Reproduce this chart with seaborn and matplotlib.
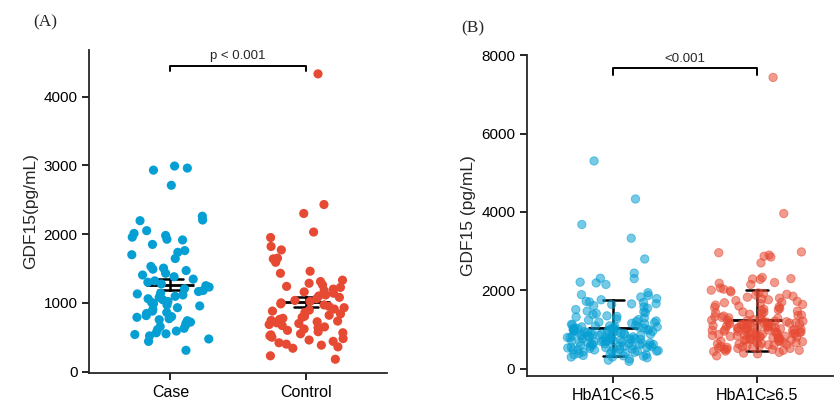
import numpy as np
import pandas as pd
import matplotlib
matplotlib.use("Agg")
import matplotlib.pyplot as plt
import seaborn as sns

# Panel A data (GDF15, pg/mL)
case_vals = [2990, 2960, 2930, 2710, 2260, 2205, 2195, 2050, 2010, 1980, 1955, 1925,
             1915, 1850, 1760, 1735, 1700, 1645, 1530, 1505, 1490, 1470, 1430, 1405,
             1380, 1345, 1320, 1300, 1275, 1250, 1230, 1205, 1180, 1165, 1140, 1130,
             1115, 1095, 1080, 1060, 1045, 1020, 1005, 990, 970, 955, 930, 905, 880,
             860, 845, 815, 800, 790, 770, 755, 740, 720, 700, 680, 655, 630, 610, 590,
             565, 550, 540, 520, 475, 440, 310]
control_vals = [4330, 2430, 2300, 2030, 1950, 1820, 1770, 1650, 1640, 1590, 1460, 1430,
                1330, 1310, 1285, 1260, 1240, 1225, 1200, 1180, 1160, 1140, 1115, 1100,
                1080, 1060, 1035, 1020, 1000, 985, 970, 950, 930, 910, 895, 880, 860,
                840, 820, 805, 790, 775, 760, 745, 735, 725, 710, 700, 685, 670, 650,
                640, 620, 600, 580, 565, 550, 535, 520, 500, 480, 460, 440, 420, 400,
                385, 360, 340, 230, 180]
groups_a = ["Case", "Control"]

# Panel B data (GDF15, pg/mL)
low_vals = [5300, 4330, 3680, 3330, 2800, 2440, 2310, 2300, 2210, 2190, 2150,
            1940, 1890, 1870, 1830, 1790, 1760, 1720, 1705, 1690, 1660, 1655, 1640, 1610, 1580,
            1545, 1510, 1470, 1455, 1430, 1410, 1385, 1350, 1335, 1320, 1295, 1270, 1255, 1240,
            1220, 1205, 1190, 1175, 1160, 1150, 1135, 1120, 1105, 1090, 1080, 1070, 1065, 1050,
            1040, 1035, 1020, 1010, 1000, 990, 985, 975, 960, 950, 945, 930, 925, 910, 900,
            890, 880, 870, 865, 855, 840, 830, 825, 810, 800, 795, 780, 770, 765, 750,
            740, 735, 720, 710, 705, 690, 680, 675, 660, 650, 640, 635, 620, 610, 600,
            590, 580, 565, 550, 540, 530, 520, 505, 490, 480, 465, 450, 440, 420, 400,
            380, 360, 340, 320, 300, 280, 250, 220, 190,
            1095, 1060, 1025, 1010, 990, 955, 930, 905, 880, 860, 835, 815, 790, 770,
            745, 720, 700, 685, 660, 640, 620, 600, 575, 560, 545, 520, 500, 480, 455,
            430, 410, 390, 360, 330, 300]
high_vals = [7430, 3960, 2980, 2960, 2900, 2870, 2850, 2700, 2330, 2300, 2290, 2280, 2200, 2180, 2150,
             2060, 2030, 2005, 1990, 1960, 1935, 1920, 1900, 1880, 1850, 1825, 1800, 1785, 1760, 1740, 1720, 1700,
             1685, 1660, 1640, 1625, 1600, 1580, 1565, 1540, 1520, 1505, 1490, 1470, 1450, 1440, 1425, 1400,
             1390, 1370, 1360, 1345, 1330, 1310, 1300, 1290, 1275, 1260, 1250, 1240, 1230, 1215, 1200, 1190,
             1180, 1170, 1160, 1150, 1145, 1130, 1120, 1110, 1100, 1090, 1085, 1070, 1060, 1050, 1040, 1030,
             1020, 1010, 1000, 995, 980, 970, 960, 950, 940, 935, 920, 910, 900, 890, 880, 870, 860, 850,
             840, 830, 825, 810, 800, 790, 780, 770, 760, 750, 740, 720, 700, 690, 670, 650, 630, 610, 600,
             580, 560, 550, 530, 520, 500, 490, 470, 450, 440, 420, 400, 380, 330,
             1240, 1215, 1190, 1165, 1140, 1120, 1095, 1075, 1050, 1030, 1010, 985, 960, 940,
             920, 895, 875, 850, 830, 810, 790, 765, 745, 720, 700, 680, 660, 640, 615,
             590, 570, 545, 520, 495, 470]
groups_b = ["HbA1C<6.5", "HbA1C\u22656.5"]

blue = "#069FD3"
red = "#E64A33"

df_a = pd.DataFrame({"group": [groups_a[0]] * len(case_vals) + [groups_a[1]] * len(control_vals),
                     "value": case_vals + control_vals})
df_b = pd.DataFrame({"group": [groups_b[0]] * len(low_vals) + [groups_b[1]] * len(high_vals),
                     "value": low_vals + high_vals})

sns.set_style("ticks")
plt.rcParams["font.family"] = ["Liberation Sans", "DejaVu Sans"]
np.random.seed(3)

fig = plt.figure(figsize=(8.34, 4.05), dpi=100)
ax1 = fig.add_axes([0.107, 0.079, 0.357, 0.798])
ax2 = fig.add_axes([0.632, 0.072, 0.367, 0.792])

# Panel A
sns.stripplot(data=df_a, x="group", y="value", hue="group", order=groups_a,
              palette=[blue, red], jitter=0.3, size=6.6, linewidth=0,
              legend=False, ax=ax1)
sns.pointplot(data=df_a, x="group", y="value", order=groups_a, errorbar="se",
              capsize=0.18, linestyle="none", marker="_", markersize=34,
              markeredgewidth=2, err_kws={"linewidth": 1.8}, color="black", ax=ax1)
ax1.set_xlim(-0.6, 1.6)
ax1.set_ylim(-20, 4680)
ax1.set_yticks([0, 1000, 2000, 3000, 4000])
ax1.set_xlabel("")
ax1.set_ylabel("GDF15(pg/mL)", fontsize=12.5)
ax1.plot([0, 0, 1, 1], [4370, 4450, 4450, 4370], color="black", lw=1.4)
ax1.text(0.5, 4500, "p < 0.001", ha="center", va="bottom", fontsize=9.5)

# Panel B
sns.stripplot(data=df_b, x="group", y="value", hue="group", order=groups_b,
              palette=[blue, red], jitter=0.32, size=6, alpha=0.55, linewidth=0.7,
              edgecolor="face", legend=False, ax=ax2)
sns.pointplot(data=df_b, x="group", y="value", order=groups_b, errorbar="sd",
              capsize=0.15, linestyle="none", marker="_", markersize=36,
              markeredgewidth=2, err_kws={"linewidth": 1.8}, color="black", ax=ax2)
ax2.set_xlim(-0.6, 1.53)
ax2.set_ylim(-180, 8000)
ax2.set_yticks([0, 2000, 4000, 6000, 8000])
ax2.set_xlabel("")
ax2.set_ylabel("GDF15 (pg/mL)", fontsize=12.5)
ax2.plot([0, 0, 1, 1], [7490, 7670, 7670, 7490], color="black", lw=1.4)
ax2.text(0.5, 7740, "<0.001", ha="center", va="bottom", fontsize=9.5)

for ax in (ax1, ax2):
    sns.despine(ax=ax)
    ax.spines["left"].set_linewidth(1.3)
    ax.spines["bottom"].set_linewidth(1.3)
    ax.tick_params(axis="both", direction="out", length=5, width=1.2,
                   labelsize=11, colors="black")
    ax.tick_params(axis="x", labelsize=11.5)

fig.text(0.04, 0.935, "(A)", fontsize=12.5, family=["Liberation Serif", "DejaVu Serif"])
fig.text(0.553, 0.92, "(B)", fontsize=12.5, family=["Liberation Serif", "DejaVu Serif"])

fig.savefig("out.png", dpi=100)
